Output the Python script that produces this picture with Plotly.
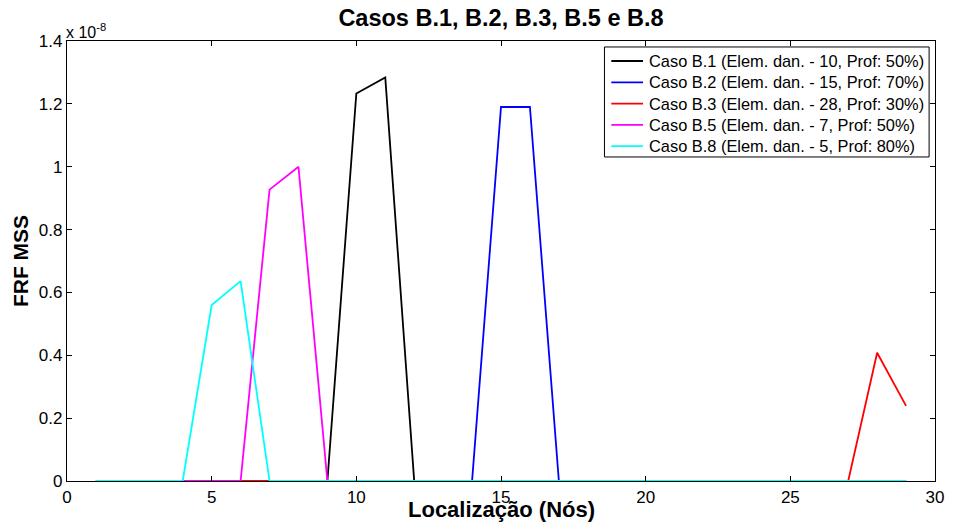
import plotly.graph_objects as go

# Nodes along the beam (1..29) and the FRF MSS damage index for each case (x 1e-8)
nodes = list(range(1, 30))

caso_b1 = [0, 0, 0, 0, 0, 0, 0, 0, 0, 1.233, 1.284, 0, 0, 0, 0, 0, 0, 0, 0, 0, 0, 0, 0, 0, 0, 0, 0, 0, 0]
caso_b2 = [0, 0, 0, 0, 0, 0, 0, 0, 0, 0, 0, 0, 0, 0, 1.19, 1.19, 0, 0, 0, 0, 0, 0, 0, 0, 0, 0, 0, 0, 0]
caso_b3 = [0, 0, 0, 0, 0, 0, 0, 0, 0, 0, 0, 0, 0, 0, 0, 0, 0, 0, 0, 0, 0, 0, 0, 0, 0, 0, 0, 0.408, 0.239]
caso_b5 = [0, 0, 0, 0, 0, 0, 0.927, 1.0, 0, 0, 0, 0, 0, 0, 0, 0, 0, 0, 0, 0, 0, 0, 0, 0, 0, 0, 0, 0, 0]
caso_b8 = [0, 0, 0, 0, 0.56, 0.636, 0, 0, 0, 0, 0, 0, 0, 0, 0, 0, 0, 0, 0, 0, 0, 0, 0, 0, 0, 0, 0, 0, 0]

series_names = [
    "Caso B.1 (Elem. dan. - 10, Prof: 50%)",
    "Caso B.2 (Elem. dan. - 15, Prof: 70%)",
    "Caso B.3 (Elem. dan. - 28, Prof: 30%)",
    "Caso B.5 (Elem. dan. - 7, Prof: 50%)",
    "Caso B.8 (Elem. dan. - 5, Prof: 80%)",
]
series_values = [caso_b1, caso_b2, caso_b3, caso_b5, caso_b8]
series_colors = ["#000000", "#0000FF", "#FF0000", "#FF00FF", "#00FFFF"]

scale = 1e-8
y_ticks = [0, 0.2, 0.4, 0.6, 0.8, 1.0, 1.2, 1.4]
y_tick_text = ["0", "0.2", "0.4", "0.6", "0.8", "1", "1.2", "1.4"]
x_ticks = [0, 5, 10, 15, 20, 25, 30]

FONT = "Liberation Sans, Arial, sans-serif"
LINE_W = 1.8

fig = go.Figure()
for name, vals, color in zip(series_names, series_values, series_colors):
    fig.add_trace(go.Scatter(
        x=nodes,
        y=[v * scale for v in vals],
        mode="lines",
        name=name,
        line=dict(color=color, width=LINE_W),
        showlegend=False,
    ))

axis_common = dict(
    showgrid=False,
    zeroline=False,
    showline=True,
    linecolor="black",
    linewidth=1.2,
    mirror="ticks",
    ticks="inside",
    ticklen=5,
    tickcolor="black",
    tickwidth=1,
    tickfont=dict(family=FONT, size=17, color="black"),
)

fig.update_xaxes(range=[0, 30], tickvals=x_ticks, **axis_common)
fig.update_yaxes(
    range=[0, 1.4 * scale],
    tickvals=[t * scale for t in y_ticks],
    ticktext=y_tick_text,
    title=dict(text="<b>FRF MSS</b>", font=dict(family=FONT, size=21, color="black"), standoff=4),
    **axis_common,
)

# Boxed legend in the upper-right corner of the axes (paper coordinates)
leg_x0, leg_x1 = 0.6192, 0.9932
leg_y0, leg_y1 = 0.7364, 0.9864
row_top = 0.9545
row_step = 0.0484
sample_x0, sample_x1 = 0.6271, 0.6636
text_x = 0.6682

shapes = [dict(
    type="rect", xref="paper", yref="paper",
    x0=leg_x0, x1=leg_x1, y0=leg_y0, y1=leg_y1,
    line=dict(color="black", width=1), fillcolor="white", layer="above",
)]
annotations = []
for i, (name, color) in enumerate(zip(series_names, series_colors)):
    yy = row_top - i * row_step
    shapes.append(dict(
        type="line", xref="paper", yref="paper",
        x0=sample_x0, x1=sample_x1, y0=yy, y1=yy,
        line=dict(color=color, width=LINE_W), layer="above",
    ))
    annotations.append(dict(
        text=name, xref="paper", yref="paper",
        x=text_x, y=yy, xanchor="left", yanchor="middle",
        showarrow=False,
        font=dict(family=FONT, size=16.4, color="black"),
    ))

# Axis multiplier shown above the y axis
annotations.append(dict(
    text="x 10<sup>-8</sup>",
    xref="paper", yref="paper",
    x=0, y=1, xanchor="left", yanchor="bottom",
    showarrow=False,
    font=dict(family=FONT, size=16, color="black"),
    xshift=-3, yshift=-2,
))

# x-axis label, set close under the tick labels
annotations.append(dict(
    text="<b>Localização (Nós)</b>",
    xref="paper", yref="paper",
    x=0.5, y=0, xanchor="center", yanchor="middle",
    showarrow=False,
    font=dict(family=FONT, size=22, color="black"),
    yshift=-28,
))

fig.update_layout(
    width=955,
    height=529,
    margin=dict(l=67, r=11, t=41, b=48),
    paper_bgcolor="white",
    plot_bgcolor="white",
    title=dict(
        text="<b>Casos B.1, B.2, B.3, B.5 e B.8</b>",
        font=dict(family=FONT, size=23.5, color="black"),
        x=0.5, xref="paper", xanchor="center",
        y=0.966, yref="container", yanchor="middle",
    ),
    showlegend=False,
    shapes=shapes,
    annotations=annotations,
)

fig.write_html("out.html")
